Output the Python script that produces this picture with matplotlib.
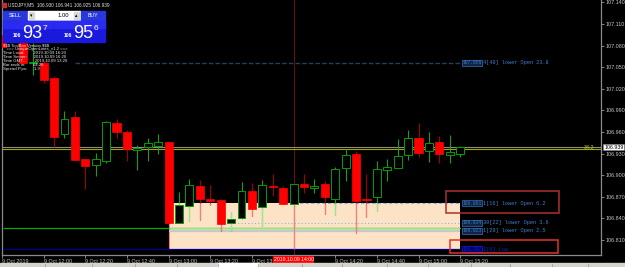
import matplotlib
matplotlib.use("Agg")
import matplotlib.pyplot as plt
from matplotlib.patches import Rectangle

plt.rcParams["text.parse_math"] = False

# ---------------- data ----------------
symbol = "USDJPY,M5"
times = ["11:40", "11:50", "11:55", "12:00", "12:05", "12:10", "12:15", "12:20", "12:25",
         "12:30", "12:35", "12:40", "12:45", "12:50", "12:55", "13:00", "13:05", "13:10",
         "13:15", "13:20", "13:25", "13:30", "13:35", "13:40", "13:45", "13:50", "13:55",
         "14:00", "14:05", "14:10", "14:15", "14:20", "14:25", "14:30", "14:35", "14:40",
         "14:45", "14:50", "14:55", "15:00", "15:05", "15:10", "15:15", "15:20"]
opens = [107.095, 107.084, 107.056, 107.056, 107.035, 106.957, 106.981, 106.922, 106.914,
         106.920, 106.972, 106.960, 106.935, 106.939, 106.941, 106.946, 106.834, 106.857,
         106.885, 106.867, 106.866, 106.834, 106.841, 106.878, 106.856, 106.885, 106.882,
         106.860, 106.888, 106.882, 106.888, 106.867, 106.910, 106.929, 106.867, 106.870,
         106.907, 106.910, 106.928, 106.952, 106.934, 106.946, 106.928, 106.930]
highs = [107.100, 107.090, 107.084, 107.058, 107.038, 106.989, 106.989, 106.923, 106.931,
         106.975, 106.978, 106.963, 106.942, 106.952, 106.957, 106.946, 106.877, 106.895,
         106.893, 106.886, 106.867, 106.849, 106.891, 106.889, 106.893, 106.902, 106.885,
         106.888, 106.902, 106.895, 106.892, 106.911, 106.936, 106.934, 106.902, 106.920,
         106.922, 106.950, 106.963, 106.972, 106.960, 106.954, 106.956, 106.941]
lows = [107.078, 107.054, 107.039, 107.028, 106.939, 106.952, 106.921, 106.881, 106.899,
        106.917, 106.952, 106.920, 106.907, 106.920, 106.929, 106.834, 106.834, 106.836,
        106.838, 106.859, 106.822, 106.822, 106.839, 106.843, 106.829, 106.871, 106.860,
        106.860, 106.875, 106.875, 106.846, 106.845, 106.892, 106.820, 106.842, 106.850,
        106.892, 106.910, 106.921, 106.925, 106.918, 106.917, 106.917, 106.925]
closes = [107.078, 107.056, 107.057, 107.032, 106.953, 106.978, 106.921, 106.913, 106.922,
          106.974, 106.960, 106.936, 106.938, 106.945, 106.946, 106.834, 106.859, 106.886,
          106.867, 106.864, 106.832, 106.839, 106.878, 106.853, 106.886, 106.884, 106.860,
          106.888, 106.884, 106.885, 106.870, 106.909, 106.928, 106.864, 106.866, 106.909,
          106.911, 106.927, 106.952, 106.931, 106.945, 106.929, 106.932, 106.939]

ohlc_header = [106.930, 106.941, 106.925, 106.939]
bid_price = 106.939
fib_level = 106.9364
fib_label = "38.2"
sell_big, sell_pip = "93", "7"
buy_big, buy_pip = "95", "6"
lot = "1.00"

ytick_vals = [106.810, 106.840, 106.870, 106.900, 106.930, 106.960, 106.990,
              107.020, 107.050, 107.080, 107.110, 107.140]
xtick_times = ["11:40", "12:00", "12:20", "12:40", "13:00", "13:20", "13:40",
               "14:20", "14:40", "15:00", "15:20"]
xtick_labels = ["9 Oct 2019", "9 Oct 12:00", "9 Oct 12:20", "9 Oct 12:40", "9 Oct 13:00",
                "9 Oct 13:20", "9 Oct 13:40", "9 Oct 14:20", "9 Oct 14:40", "9 Oct 15:00",
                "9 Oct 15:20"]
cross_time = "14:00"
cross_label = "2019.10.09 14:00"

# open lines: value, start time, label tail
zone_top = 106.861
zone_bottom = 106.798
zone_start = "13:00"
line_top_val, line_top_start, line_top_txt = 107.056, "12:15", "4[40] lower Open 23.8"
line_z_val, line_z_txt = zone_top, "1[16] lower Open 6.2"
line_dot_val, line_dot_start, line_dot_txt = 106.834, "13:30", "30[22] lower Open 3.6"
line_sil_val, line_sil_txt = 106.823, "1[29] lower Open 2.5"
line_low_val, line_low_txt = 106.797, "1[0] Low"
green_val = 106.826

info_lines = ["$$$ ToolBox Version $$$",
              "   === UniqueOpenLines_v1.2 ===",
              "Time Local:        2019.10.09 16:20",
              "Time Server:      2019.10.09 16:20",
              "Time GMT:          2019.10.09 13:20",
              "Bar ends in:       04:26",
              "Spread Pips:      1.9"]

# red marker boxes (data units: bar index, price)
marker_boxes = [((42.65, 106.8475), (53.49, 106.878), "#B03030"),
                ((43.03, 106.792), (53.39, 106.810), "#E83030")]


def tmin(t):
    h, m = t.split(":")
    return int(h) * 60 + int(m)


t0 = tmin(times[0])
def tidx(t):
    return (tmin(t) - t0) / 5.0

xs = [tidx(t) for t in times]
last_x = xs[-1]

# ---------------- figure ----------------
W, H = 625, 267
fig = plt.figure(figsize=(W / 100, H / 100), dpi=100, facecolor="black")
ax = fig.add_axes([2 / W, 12 / H, 599 / W, 255 / H], facecolor="black")
ax.set_xlim(0.058, 57.52)
ax.set_ylim(106.7892, 107.1433)

for s in ["left", "right", "bottom"]:
    ax.spines[s].set_color("#8a8a8a")
    ax.spines[s].set_linewidth(0.9)
ax.spines["top"].set_visible(False)

# zone rectangle
zx0 = tidx(zone_start)
ax.add_patch(Rectangle((zx0, zone_bottom), last_x - zx0, zone_top - zone_bottom,
                       facecolor="#FDE3C6", edgecolor="none", zorder=1))
ax.vlines(zx0, zone_bottom, zone_top, color="#F08080", lw=0.8, zorder=1.2)

# horizontal lines
ax.axhline(bid_price, color="#8c8c8c", lw=0.8, zorder=1.5)
ax.axhline(fib_level, color="#A8A800", lw=0.8, zorder=1.5)
ax.hlines(green_val, 0.058, last_x, color="#00A800", lw=0.9, zorder=1.5)
ax.hlines(green_val, zx0, last_x, color="#8CEB7C", lw=0.9, zorder=1.6)
ax.hlines(line_sil_val, zx0, last_x, color="#C8C8C8", lw=1.7, zorder=1.5)
ax.hlines(line_low_val, 0.058, last_x, color="#000090", lw=0.9, zorder=1.5)
ax.hlines(line_dot_val, tidx(line_dot_start), last_x, color="#8FB0DA", lw=0.8,
          linestyle=(0, (1, 2)), zorder=1.6)
ax.hlines(zone_top, tidx(cross_time), last_x, color="#8FB0DA", lw=0.8,
          linestyle=(0, (3, 2)), zorder=1.6)
ax.hlines(line_top_val, tidx(line_top_start), last_x, color="#24405F", lw=1.0,
          linestyle=(0, (3.3, 1.5)), zorder=1.5)

# crosshair vertical line
cx = tidx(cross_time)
ax.axvline(cx, color="#5C1212", lw=0.8, zorder=1.4)
ax.vlines(cx, zone_bottom, zone_top, color="#F08080", lw=0.8, zorder=1.7)

# candles
bull_c, bear_c = "#00A000", "#FF0000"
bull_w, bear_w = "#1E9A1E", "#A00000"
bull_l, bear_l = "#90EE90", "#F08080"
for x, o, h, l, c in zip(xs, opens, highs, lows, closes):
    bull = c >= o
    ax.vlines(x, l, h, color=bull_w if bull else bear_w, lw=0.8, zorder=2)
    if zx0 <= x <= last_x:
        blo, bhi = min(o, c), max(o, c)
        segs = [(max(l, zone_bottom), min(blo, zone_top)),
                (max(bhi, zone_bottom), min(h, zone_top))]
        for a, b in segs:
            if b > a:
                ax.vlines(x, a, b, color=bull_l if bull else bear_l, lw=0.8, zorder=2.1)

bx = [x for x, o, c in zip(xs, opens, closes) if c >= o]
bb = [o for o, c in zip(opens, closes) if c >= o]
bh = [max(c - o, 0.0006) for o, c in zip(opens, closes) if c >= o]
rx = [x for x, o, c in zip(xs, opens, closes) if c < o]
rb = [c for o, c in zip(opens, closes) if c < o]
rh = [max(o - c, 0.0012) for o, c in zip(opens, closes) if c < o]
ax.bar(bx, bh, bottom=bb, width=0.76, color="black", edgecolor=bull_c, linewidth=0.7, zorder=3)
ax.bar(rx, rh, bottom=rb, width=0.78, color=bear_c, edgecolor=bear_c, linewidth=0.5, zorder=3)

# ticks
ax.yaxis.tick_right()
ax.set_yticks(ytick_vals)
ax.set_yticklabels([f"{v:.3f}" for v in ytick_vals], fontfamily="Liberation Sans")
ax.tick_params(axis="y", colors="#B8B8B8", labelsize=3.9, length=2.2, width=0.5, pad=1.0,
               labelcolor="#C8C8C8")
ax.set_xticks([tidx(t) for t in xtick_times])
ax.set_xticklabels(xtick_labels, ha="left", fontfamily="Liberation Sans")
ax.tick_params(axis="x", colors="#B8B8B8", labelsize=3.9, length=2.2, width=0.5, pad=0.6,
               labelcolor="#C8C8C8")

# price labels at line ends
mono = "Liberation Mono"
def line_label(val, tail, tcol, fcol, ecol):
    ax.annotate(f"{val:.3f}", xy=(last_x, val), xytext=(1.6, 0), textcoords="offset points",
                ha="left", va="center", fontsize=3.3, family=mono, color=tcol, zorder=6,
                bbox=dict(boxstyle="square,pad=0.1", fc=fcol, ec=ecol, lw=0.5))
    ax.annotate(tail, xy=(last_x, val), xytext=(16.4, 0), textcoords="offset points",
                ha="left", va="center", fontsize=3.8, family=mono, color=tcol, zorder=6)

line_label(line_top_val, line_top_txt, "#3F7FCF", "#0E2440", "#3070C0")
line_label(line_z_val, line_z_txt, "#3F7FCF", "#0E2440", "#3070C0")
line_label(line_dot_val, line_dot_txt, "#3F7FCF", "#0E2440", "#3070C0")
line_label(line_sil_val, line_sil_txt, "#3F7FCF", "#0E2440", "#3070C0")
line_label(line_low_val, line_low_txt, "#1A1AD0", "#00006A", "#1A1AD0")

for (x0, y0), (x1, y1), col in marker_boxes:
    ax.add_patch(Rectangle((x0, y0), x1 - x0, y1 - y0, fill=False, edgecolor=col,
                           lw=1.1, zorder=6))

# bid box and fib label on axis
ax.annotate(f"{bid_price:.3f}", xy=(1, bid_price), xycoords=("axes fraction", "data"),
            xytext=(2.2, 0), textcoords="offset points", ha="left", va="center",
            fontsize=3.8, family="Liberation Sans", color="black", zorder=7,
            annotation_clip=False,
            bbox=dict(boxstyle="square,pad=0.12", fc="white", ec="#808080", lw=0.4))
ax.annotate(fib_label, xy=(1, fib_level), xycoords=("axes fraction", "data"),
            xytext=(-5, 1.2), textcoords="offset points", ha="right", va="center",
            fontsize=3.9, family="Liberation Sans", color="#C8C800", zorder=7)

# crosshair time label
ax.annotate(cross_label, xy=(cx, 0), xycoords=("data", "axes fraction"),
            xytext=(0, -3.3), textcoords="offset points", ha="center", va="center",
            fontsize=3.7, family="Liberation Sans", color="white", zorder=8,
            annotation_clip=False,
            bbox=dict(boxstyle="square,pad=0.15", fc="#FF0000", ec="#FF0000", lw=0))

# ---------------- overlay (panel, info text, bottom strip) ----------------
ov = fig.add_axes([0, 0, 1, 1], zorder=10)
ov.set_xlim(0, W)
ov.set_ylim(H, 0)
ov.axis("off")
ov.patch.set_alpha(0)

ov.text(8, 5, f"{symbol}  " + " ".join(f"{v:.3f}" for v in ohlc_header),
        fontsize=3.4, color="#E0E0E0", va="center", ha="left", family="Liberation Sans")
ov.add_patch(Rectangle((1.5, 2.5), 4, 4.5, color="#C03030"))

ov.add_patch(Rectangle((3, 10.5), 24, 10, color="#2838DC"))
ov.text(15, 15.7, "SELL", fontsize=3.8, color="white", ha="center", va="center",
        family="Liberation Sans")
ov.add_patch(Rectangle((28, 11), 52, 9, color="white"))
ov.add_patch(Rectangle((29, 12), 5, 7, color="#D8D8D8"))
ov.add_patch(Rectangle((74, 12), 5, 7, color="#D8D8D8"))
ov.text(31.5, 15.5, "▾", fontsize=3.5, color="black", ha="center", va="center")
ov.text(76.5, 15.2, "▴", fontsize=3.5, color="black", ha="center", va="center")
ov.text(69, 15.6, lot, fontsize=4.2, color="black", ha="right", va="center",
        family="Liberation Sans")
ov.add_patch(Rectangle((81, 10.5), 24, 10, color="#2838DC"))
ov.text(93, 15.7, "BUY", fontsize=3.8, color="white", ha="center", va="center",
        family="Liberation Sans")

for px0, big, pip in [(3, sell_big, sell_pip), (54, buy_big, buy_pip)]:
    ov.add_patch(Rectangle((px0, 21), 50.5, 21, color="#1A1ADC"))
    ov.add_patch(Rectangle((px0, 21), 50.5, 7, color="#2A2AF0"))
    ov.text(px0 + 10, 35.5, "106", fontsize=3.6, color="white", ha="left", va="center",
            family="Liberation Sans", fontweight="bold")
    ov.text(px0 + 19, 38.5, big, fontsize=13, color="white", ha="left", va="baseline",
            family="Liberation Sans")
    ov.text(px0 + 39.5, 28.5, pip, fontsize=6, color="white", ha="left", va="center",
            family="Liberation Sans")

for k, line in enumerate(info_lines):
    ov.text(3, 45.5 + k * 3.95, line, fontsize=3.1, color="#E8E8E8", ha="left",
            va="center", family="Liberation Sans")

ov.add_patch(Rectangle((0, 263), W, 4, color="#D6D3CE"))
ov.add_patch(Rectangle((218, 263), 40, 4, color="#FFFFFF"))
for sx in [45, 92, 135, 177, 218, 258, 302, 342, 387, 428, 471, 510, 552, 588]:
    ov.plot([sx, sx], [263.5, 267], color="#909090", lw=0.5)

fig.savefig("out.png", dpi=100, facecolor="black")
